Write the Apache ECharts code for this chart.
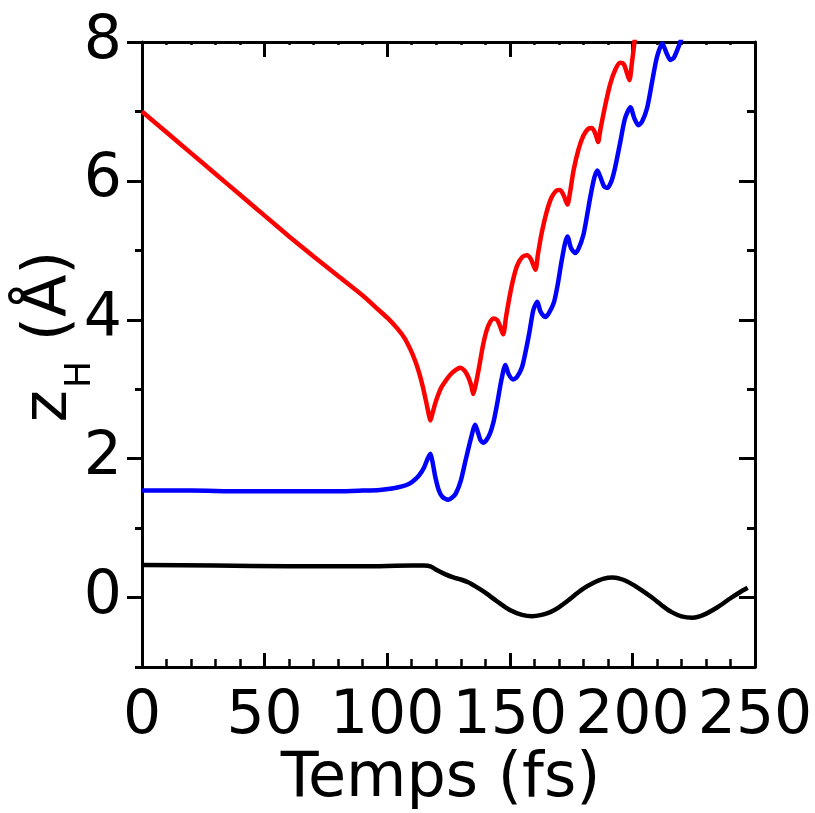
<!DOCTYPE html>
<html>
<head>
<meta charset="utf-8">
<script src="https://cdn.jsdelivr.net/npm/echarts@6/dist/echarts.min.js"></script>
<style>
html,body{margin:0;padding:0;background:#fff;}
#chart{width:815px;height:813px;}
</style>
</head>
<body>
<div id="chart"></div>
<script>
// ---- data ----
const xTicks = [0, 50, 100, 150, 200, 250];
const yTicks = [0, 2, 4, 6, 8];

const redT = [0,10,20,30,40,50,60,70,80,90,95,100,104,107,109.5,111.5,113,114.5,116,117,117.6,118.5,120,122,124,126,128,129.8,131.5,133,134.3,135.1,136,137.5,139,140.5,142,143.5,145,146.3,147.3,148.5,150,151.5,153,155,157,158.5,159.7,160.5,161.5,163,165,167,169,170.5,172,173.5,174.5,176,178,180,182,183.5,185,186,187,189,191,193,195,196.5,197.8,198.8,199.8,201,202];
const redZ = [7.00,6.70,6.40,6.10,5.80,5.50,5.20,4.91,4.63,4.35,4.19,4.03,3.88,3.74,3.57,3.40,3.24,3.04,2.80,2.63,2.55,2.66,2.84,3.02,3.13,3.22,3.28,3.31,3.27,3.18,3.05,2.93,3.05,3.32,3.62,3.84,3.97,4.02,3.99,3.88,3.79,4.05,4.35,4.60,4.78,4.90,4.93,4.88,4.78,4.72,4.95,5.25,5.55,5.76,5.86,5.87,5.79,5.66,5.82,6.15,6.45,6.65,6.75,6.76,6.67,6.56,6.75,7.10,7.40,7.60,7.70,7.68,7.55,7.45,7.70,8.05,8.40];

const blueT = [0,20,40,60,80,90,97,102,106,109,111,113,115,116.5,117.6,118.5,119.6,121,122.5,124.9,126.5,128,130,132,134,135.9,137,138,139.2,140.5,142,143.5,145,146.5,148.2,149.5,151.4,153,155,156.5,158,159.6,161.2,162.5,164.5,166,168,169.5,171,172.5,173.5,175,176.7,178,180,181.5,183,184.5,185.7,187,188.5,189.8,191.5,193,195,197,199.2,200.8,202.4,204,206,208,210,212.2,213.8,215.5,217,219,221];
const blueZ = [1.54,1.54,1.53,1.53,1.53,1.54,1.55,1.57,1.60,1.64,1.69,1.76,1.87,2.00,2.07,1.95,1.74,1.55,1.45,1.41,1.44,1.50,1.68,1.98,2.27,2.49,2.38,2.27,2.23,2.27,2.37,2.55,2.82,3.12,3.35,3.22,3.14,3.18,3.32,3.55,3.82,4.14,4.26,4.12,4.04,4.10,4.25,4.50,4.82,5.10,5.20,5.03,4.96,5.02,5.22,5.50,5.80,6.05,6.15,6.05,5.92,5.90,6.00,6.20,6.55,6.90,7.06,6.90,6.80,6.86,7.05,7.42,7.78,7.98,7.85,7.74,7.78,7.95,8.15];

const blackT = [0,30,60,90,110,115,117.6,120,124,127,130,133,136,140,145,150,155,159,163,166.5,170,173.5,177,180,184,188,192,196,200,204,208,212.7,216,220,224.5,229,234.7,240,244,247];
const blackZ = [0.47,0.46,0.45,0.45,0.46,0.46,0.45,0.40,0.33,0.29,0.26,0.22,0.16,0.07,-0.06,-0.18,-0.25,-0.27,-0.25,-0.21,-0.14,-0.05,0.05,0.13,0.21,0.27,0.29,0.26,0.19,0.10,0.00,-0.13,-0.21,-0.27,-0.29,-0.25,-0.14,-0.01,0.08,0.14];

const zip = (a, b) => a.map((v, i) => [v, b[i]]);
const FONT = 'DejaVu Sans';
const BLACK = '#000';

function xAx(pos, show) {
  return {
    type: 'value', position: pos, min: 0, max: 250, interval: 50,
    axisLine: { show: true, onZero: false, lineStyle: { color: BLACK, width: 3 } },
    axisTick: { show: true, inside: true, length: pos === 'bottom' ? 14 : 15, lineStyle: { color: BLACK, width: 3 } },
    minorTick: { show: true, splitNumber: 5, length: pos === 'bottom' ? 8 : 3, lineStyle: { color: BLACK, width: 2.5 } },
    splitLine: { show: false }, minorSplitLine: { show: false },
    axisLabel: { show: show, fontFamily: FONT, fontSize: 60, color: BLACK, margin: 20 },
    name: show ? 'Temps (fs)' : '',
    nameLocation: 'middle', nameGap: 82, nameMoveOverlap: false,
    nameTextStyle: { fontFamily: FONT, fontSize: 62, color: BLACK, padding: [0, 16, 0, 0] }
  };
}

function yMinor(pos, inside, len) {
  return {
    type: 'value', position: pos, min: -1, max: 8, interval: 1,
    axisLine: { show: true, onZero: false, lineStyle: { color: BLACK, width: 3 } },
    axisTick: { show: true, inside: inside, length: len, lineStyle: { color: BLACK, width: 3 } },
    splitLine: { show: false },
    axisLabel: { show: false }
  };
}
function yMajor(pos, inside, len) {
  return {
    type: 'value', position: pos, min: -1, max: 8,
    axisLine: { show: false, onZero: false },
    axisTick: { show: true, inside: inside, length: len, customValues: yTicks, lineStyle: { color: BLACK, width: 3 } },
    splitLine: { show: false },
    axisLabel: { show: false }
  };
}

const yMain = yMinor('left', false, 7);
yMain.axisLabel = {
  show: true, fontFamily: FONT, fontSize: 60, color: BLACK, margin: 20,
  formatter: v => (yTicks.indexOf(v) >= 0 ? String(v) : '')
};
yMain.name = '{z|z}{h|H}{a| (Å)}';
yMain.nameLocation = 'middle';
yMain.nameGap = 61;
yMain.nameMoveOverlap = false;
yMain.nameRotate = 90;
yMain.nameTextStyle = {
  fontFamily: FONT, color: BLACK, padding: [0, 0, 0, 36],
  rich: {
    z: { fontFamily: FONT, fontSize: 62, lineHeight: 62, color: BLACK, verticalAlign: 'top' },
    h: { fontFamily: FONT, fontSize: 36, lineHeight: 36, color: BLACK, verticalAlign: 'top', padding: [44, 0, 0, 2] },
    a: { fontFamily: FONT, fontSize: 62, lineHeight: 62, color: BLACK, verticalAlign: 'top' }
  }
};

const chart = echarts.init(document.getElementById('chart'), null, { renderer: 'canvas' });
chart.setOption({
  animation: false,
  backgroundColor: '#fff',
  grid: { left: 142, right: 60, top: 42, bottom: 146, containLabel: false, outerBoundsMode: 'none' },
  xAxis: [xAx('bottom', true), xAx('top', false)],
  yAxis: [yMain, yMajor('left', false, 15), yMinor('right', true, 8), yMajor('right', true, 16)],
  series: [
    { type: 'line', name: 'red', data: zip(redT, redZ), showSymbol: false, smooth: 0.25, clip: true,
      lineStyle: { color: '#ff0000', width: 4.5 }, xAxisIndex: 0, yAxisIndex: 0 },
    { type: 'line', name: 'blue', data: zip(blueT, blueZ), showSymbol: false, smooth: 0.25, clip: true,
      lineStyle: { color: '#0000ff', width: 4.5 }, xAxisIndex: 0, yAxisIndex: 0 },
    { type: 'line', name: 'black', data: zip(blackT, blackZ), showSymbol: false, smooth: 0.25, clip: true,
      lineStyle: { color: '#000000', width: 4.5 }, xAxisIndex: 0, yAxisIndex: 0 }
  ]
});
</script>
</body>
</html>
